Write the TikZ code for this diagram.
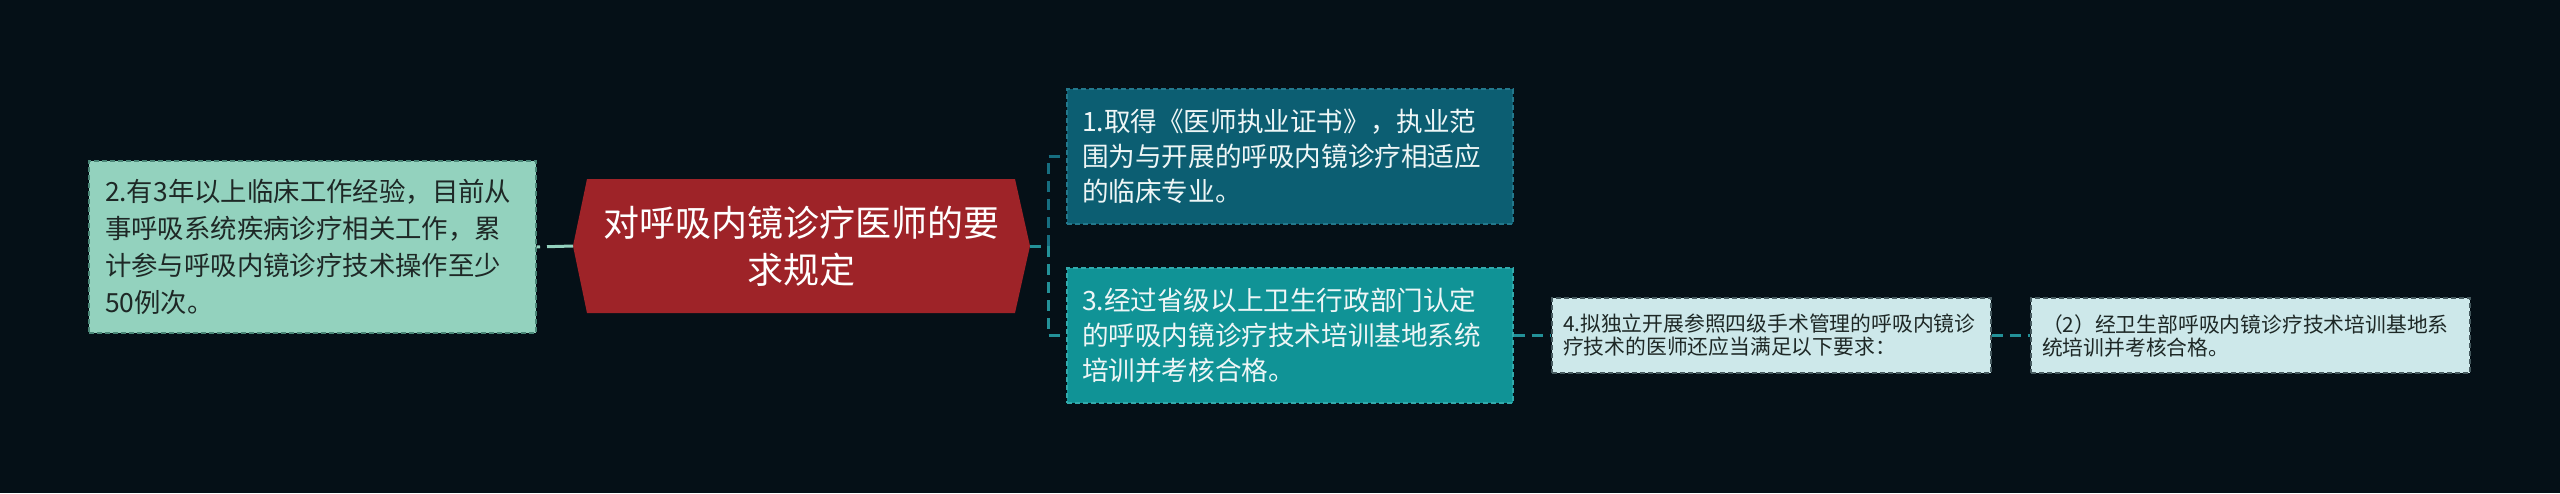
\documentclass[tikz,border=0pt]{standalone}
\usepackage{fontspec}
\setmainfont{Noto Sans CJK SC}
\definecolor{bg}{RGB}{5,16,23}
\definecolor{mint}{RGB}{147,210,190}
\definecolor{mintborder}{RGB}{75,135,120}
\definecolor{mainred}{RGB}{158,35,40}
\definecolor{deepteal}{RGB}{12,94,114}
\definecolor{deeptealborder}{RGB}{35,120,140}
\definecolor{teal}{RGB}{16,147,150}
\definecolor{tealborder}{RGB}{50,170,172}
\definecolor{pale}{RGB}{205,232,234}
\definecolor{paleborder}{RGB}{70,90,95}
\definecolor{linkdeep}{RGB}{22,110,128}
\definecolor{linkteal}{RGB}{35,145,152}
\definecolor{darktext}{RGB}{30,40,38}
\definecolor{lighttext}{RGB}{238,246,246}
\begin{document}
\begin{tikzpicture}[x=0.5pt,y=-0.5pt,
  box/.style={rectangle, anchor=center, align=left, inner ysep=0pt,
    line width=0.6pt, dash pattern=on 2.5pt off 1.5pt},
  bigbox/.style={box, minimum height=67.5pt, text width=208pt, inner xsep=7.5pt,
    font=\fontsize{13.3pt}{17.5pt}\selectfont},
  smallbox/.style={box, minimum height=37.5pt, text width=208.5pt, inner xsep=5.5pt,
    font=\fontsize{10.4pt}{11.5pt}\selectfont, text=darktext, fill=pale, draw=paleborder},
  link/.style={line width=1.5pt, dash pattern=on 5.5pt off 3.5pt}
]
\fill[bg] (0,0) rectangle (2560,493);
\useasboundingbox (0,0) rectangle (2560,493);

% central hexagon
\coordinate (mL) at (573,246);
\coordinate (mR) at (1030,246);
\fill[mainred] (mL) -- (587,179) -- (1015,179) -- (mR) -- (1015,313) -- (587,313) -- cycle;
\node[align=center, text=white, font=\fontsize{18pt}{23.5pt}\selectfont] (main) at (801.5,246)
  {对呼吸内镜诊疗医师的要\\求规定};

% left box
\node[box, fill=mint, draw=mintborder, text=darktext, minimum height=86pt, text width=207.5pt,
  inner xsep=8pt, font=\fontsize{13.2pt}{18.5pt}\selectfont] (L) at (312.5,247)
  {2.有3年以上临床工作经验，目前从\\事呼吸系统疾病诊疗相关工作，累\\计参与呼吸内镜诊疗技术操作至少\\50例次。};

% right boxes
\node[bigbox, fill=deepteal, draw=deeptealborder, text=lighttext] (B1) at (1290,156.5)
  {1.取得《医师执业证书》，执业范\\围为与开展的呼吸内镜诊疗相适应\\的临床专业。};
\node[bigbox, fill=teal, draw=tealborder, text=lighttext] (B3) at (1290,335.5)
  {3.经过省级以上卫生行政部门认定\\的呼吸内镜诊疗技术培训基地系统\\培训并考核合格。};
\node[smallbox] (B4) at (1771.5,335.5)
  {4.拟独立开展参照四级手术管理的呼吸内镜诊\\疗技术的医师还应当满足以下要求：};
\node[smallbox] (B5) at (2250.5,335.5)
  {（2）经卫生部呼吸内镜诊疗技术培训基地系\\统培训并考核合格。};

% connectors
\draw[line width=1.5pt, mint, dash pattern=on 13pt off 3.5pt] (mL) -- (L.east);
\draw[link, linkdeep] (mR) -- ++(18,0) |- (B1.west);
\draw[link, linkteal] (mR) -- ++(18,0) |- (B3.west);
\draw[link, linkteal] (B3.east) -- (B4.west);
\draw[link, linkteal] (B4.east) -- (B5.west);
\end{tikzpicture}
\end{document}
